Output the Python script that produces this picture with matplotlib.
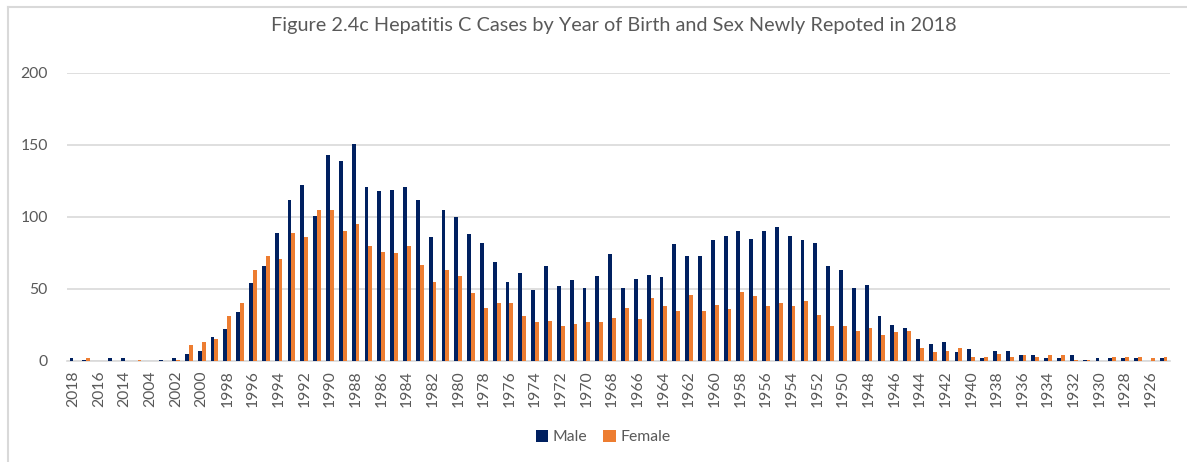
import matplotlib
matplotlib.use("Agg")
import matplotlib.pyplot as plt
import numpy as np

years = ["2018", "2017", "2016", "2015", "2014", "2005", "2004", "2003"] + [str(y) for y in range(2002, 1924, -1)]

male = [2, 1, 0, 2, 2, 0, 0, 1, 2, 5, 7, 17, 22, 34, 54, 66, 89, 112, 122, 101,
        143, 139, 151, 121, 118, 119, 121, 112, 86, 105, 100, 88, 82, 69, 55, 61,
        49, 66, 52, 56, 51, 59, 74, 51, 57, 60, 58, 81, 73, 73, 84, 87, 90, 85,
        90, 93, 87, 84, 82, 66, 63, 51, 53, 31, 25, 23, 15, 12, 13, 6, 8, 2, 7,
        7, 4, 4, 2, 2, 4, 1, 2, 2, 2, 2, 0, 2]
female = [0, 2, 0, 0, 0, 1, 0, 0, 1, 11, 13, 15, 31, 40, 63, 73, 71, 89, 86, 105,
          105, 90, 95, 80, 76, 75, 80, 67, 55, 63, 59, 47, 37, 40, 40, 31, 27, 28,
          24, 26, 27, 27, 30, 37, 29, 44, 38, 35, 46, 35, 39, 36, 48, 45, 38, 40,
          38, 42, 32, 24, 24, 21, 23, 18, 20, 21, 9, 6, 7, 9, 3, 3, 5, 3, 4, 3, 4,
          4, 1, 1, 0, 3, 3, 3, 2, 3]

series_names = ["Male", "Female"]
colors = ["#002060", "#ED7D31"]
title = "Figure 2.4c Hepatitis C Cases by Year of Birth and Sex Newly Repoted in 2018"

plt.rcParams['font.family'] = ['Lato', 'DejaVu Sans']

fig = plt.figure(figsize=(11.87, 4.62), dpi=100)
ax = fig.add_axes([67/1187, 1 - 361/462, (1170 - 67)/1187, (361 - 73)/462])

x = np.arange(len(years))
w = 0.3
ax.bar(x - w/2, male, width=w, color=colors[0], label=series_names[0], zorder=3)
ax.bar(x + w/2, female, width=w, color=colors[1], label=series_names[1], zorder=3)

ax.set_xlim(-0.5, len(years) - 0.5)
ax.set_ylim(0, 200)
ax.set_yticks([0, 50, 100, 150, 200])
ax.grid(axis='y', color='#d9d9d9', linewidth=1.2, zorder=0)
for s in ['top', 'right', 'left']:
    ax.spines[s].set_visible(False)
ax.spines['bottom'].set_color('#d9d9d9')
ax.spines['bottom'].set_linewidth(1.2)
ax.set_xticks(x[::2])
ax.set_xticklabels(years[::2], rotation=90, fontsize=11.3, color='#595959')
ax.tick_params(axis='x', length=0, pad=7)
ax.tick_params(axis='y', length=0, pad=14, labelsize=11.3, labelcolor='#595959')

fig.text(614/1187, 1 - 26/462, title, ha='center', va='center', fontsize=14.3, color='#595959')

handles, labels = ax.get_legend_handles_labels()
fig.legend(handles, labels, loc='center', bbox_to_anchor=(603/1187, 1 - 437/462), ncol=2,
           frameon=False, fontsize=11.3, labelcolor='#595959', handlelength=0.8, handleheight=0.8,
           handletextpad=0.3, columnspacing=1.0)

# frame lines of the screenshot
fig.add_artist(plt.Line2D([8/1187, 8/1187], [0, 1 - 7/462], color='#d9d9d9', linewidth=1.5, transform=fig.transFigure))
fig.add_artist(plt.Line2D([8/1187, 1], [1 - 7/462, 1 - 7/462], color='#d9d9d9', linewidth=1.5, transform=fig.transFigure))

fig.savefig("out.png", dpi=100)
